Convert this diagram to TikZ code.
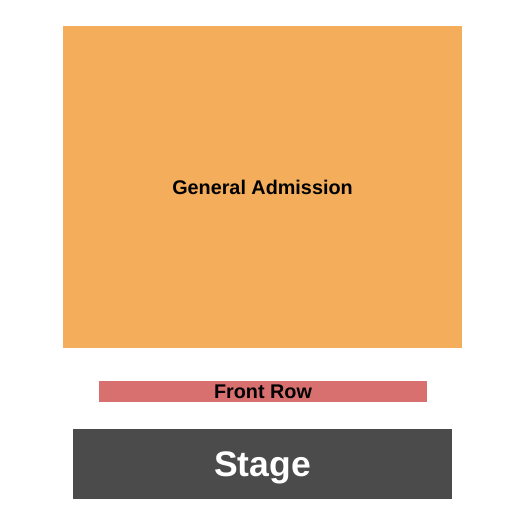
\documentclass[tikz,border=0pt]{standalone}
\usepackage{fontspec}
\setmainfont{Liberation Sans}
\usepackage{tikz}
\definecolor{gaorange}{HTML}{F4AE5B}
\definecolor{rowred}{HTML}{D87070}
\definecolor{stagegrey}{HTML}{4B4B4B}

\begin{document}
\begin{tikzpicture}[x=1pt, y=-1pt, every node/.style={rectangle, inner sep=0pt, outer sep=0pt, font=\bfseries}]
        \useasboundingbox[fill=white] (0,0) rectangle (525,525);

        \node[fill=gaorange, minimum width=399pt, minimum height=322pt, font=\bfseries\fontsize{19.8}{20}\selectfont] (ga) at (262.5,187) {General Admission};
        \node[fill=rowred, minimum width=328pt, minimum height=21pt, font=\bfseries\fontsize{19.8}{20}\selectfont] (front) at (263,391.5) {Front Row};
        \node[fill=stagegrey, text=white, text depth=0pt, minimum width=379pt, minimum height=70pt, font=\bfseries\fontsize{35.5}{36}\selectfont] (stage) at (262.5,464) {Stage};
    \end{tikzpicture}
\end{document}
